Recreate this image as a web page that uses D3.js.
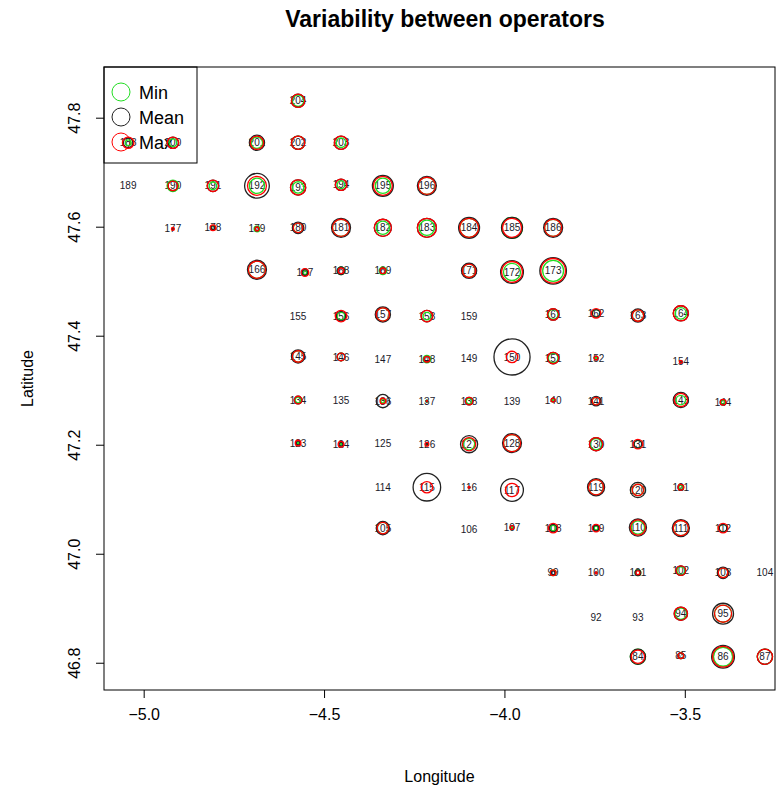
<!DOCTYPE html>
<html>
<head>
<meta charset="utf-8">
<script src="https://cdn.jsdelivr.net/npm/d3@7"></script>
<style>
  body { margin: 0; background: #fff; }
  svg { display: block; font-family: Arial, "Liberation Sans", sans-serif; }
</style>
</head>
<body>
<div id="chart"></div>
<script>
// ---- data ----
const stations = [204, 188,200,201,202,203, 189,190,191,192,193,194,195,196,
  177,178,179,180,181,182,183,184,185,186, 166,167,168,169,171,172,173,
  155,156,157,158,159,161,162,163,164, 145,146,147,148,149,150,151,152,154,
  134,135,136,137,138,139,140,141,143,144, 123,124,125,126,127,128,130,131,
  114,115,116,117,119,120,121, 105,106,107,108,109,110,111,112,
  99,100,101,102,103,104, 92,93,94,95, 84,85,86,87];
const lon = [-4.572, -5.043,-4.919,-4.686,-4.572,-4.453, -5.043,-4.919,-4.808,-4.686,-4.572,-4.453,-4.337,-4.215,
  -4.919,-4.808,-4.686,-4.572,-4.453,-4.337,-4.215,-4.098,-3.979,-3.865, -4.686,-4.553,-4.453,-4.337,-4.098,-3.979,-3.865,
  -4.572,-4.453,-4.337,-4.215,-4.098,-3.865,-3.746,-3.630,-3.511, -4.572,-4.453,-4.337,-4.215,-4.098,-3.979,-3.865,-3.746,-3.511,
  -4.572,-4.453,-4.337,-4.215,-4.098,-3.979,-3.865,-3.746,-3.511,-3.394, -4.572,-4.453,-4.337,-4.215,-4.098,-3.979,-3.746,-3.630,
  -4.337,-4.215,-4.098,-3.979,-3.746,-3.630,-3.511, -4.337,-4.098,-3.979,-3.865,-3.746,-3.630,-3.511,-3.394,
  -3.865,-3.746,-3.630,-3.511,-3.394,-3.278, -3.746,-3.630,-3.511,-3.394, -3.630,-3.511,-3.394,-3.278];
const lat = [47.831, 47.754,47.754,47.754,47.754,47.754, 47.675,47.675,47.675,47.675,47.672,47.677,47.675,47.675,
  47.596,47.598,47.596,47.598,47.598,47.598,47.598,47.598,47.598,47.598, 47.521,47.516,47.519,47.519,47.519,47.517,47.519,
  47.436,47.436,47.439,47.436,47.436,47.439,47.441,47.437,47.441, 47.362,47.361,47.357,47.357,47.359,47.361,47.359,47.359,47.352,
  47.282,47.282,47.280,47.280,47.280,47.280,47.282,47.280,47.282,47.278, 47.203,47.201,47.203,47.201,47.201,47.203,47.201,47.201,
  47.122,47.122,47.122,47.117,47.122,47.117,47.122, 47.047,47.045,47.048,47.047,47.047,47.048,47.047,47.047,
  46.965,46.965,46.965,46.969,46.965,46.965, 46.884,46.884,46.890,46.890, 46.811,46.813,46.811,46.811];
const minVals = [6, 3,4,6,7,5, 0,6,4,8,6,4,8,9,
  0,2,3,5,9,7,8,10,11,9, 9,2,4,4,7,9,11,
  0,4,7,4,0,5,4,6,6, 6,4,0,4,0,0,5,1,0,
  3,0,2,1,3,0,1,4,5,2, 1,1,0,1,6,9,6,4,
  0,0,0,0,8,6,2, 6,0,1,3,2,7,8,4,
  3,0,3,4,5,0, 0,0,6,9, 8,3,10,8];
const meanVals = [7, 5,6,8,7,7, 0,5,6,13,8,6,11,10,
  1,2,2,6,10,9,10,11,11,10, 10,3,4,3,8,12,14,
  0,5,8,6,0,6,4,7,8, 7,4,0,3,0,19,6,2,1,
  4,0,7,1,4,0,2,5,8,3, 2,2,0,1,9,10,7,4,
  0,14.5,1,12,9,8,3, 7,0,2,4,3,9,9,4,
  2,1,3,5,6,0, 0,0,7,11, 8,3,12,8];
const maxVals = [7, 6,6,7,7,7, 0,5,6,10,8,6,10,9,
  1.5,3,2,5,9,9,10,10,10,9, 9,4,3,3,7,11,13,
  0,6,7,6,0,6,5,6,8, 6,4,0,3,0,6,6,2,1.5,
  4,0,3,0.5,4,0,2,4,7,3, 3,3,0,2,7,9,7,5,
  0,6,1,7,8,6,3, 6,0,2,5,4,8,8,5,
  3,1,2,5,5,0, 0,0,7,9, 7,3,11,8];
const xTicks = [-5.0, -4.5, -4.0, -3.5];
const yTicks = [46.8, 47.0, 47.2, 47.4, 47.6, 47.8];
const legendLabels = ["Min", "Mean", "Max"];
const legendColors = ["#22dd22", "#222222", "#ff0000"];

// ---- layout ----
const W = 779, H = 789;
const plot = {left: 104, right: 775, top: 67, bottom: 690};

const svg = d3.select("#chart").append("svg").attr("width", W).attr("height", H);

const x = d3.scaleLinear().domain([-5.11, -3.25]).range([plot.left, plot.right]);
const y = d3.scaleLinear().domain([46.75, 47.893]).range([plot.bottom, plot.top]);
const r = d3.scaleLinear().domain([0, 20]).range([0, 19]);

// title
svg.append("text").attr("x", 445).attr("y", 27)
  .attr("text-anchor", "middle").attr("font-size", 23).attr("font-weight", "bold")
  .text("Variability between operators");

// axes
const xAxis = d3.axisBottom(x).tickValues(xTicks).tickFormat(d3.format(".1f")).tickSize(8).tickPadding(11);
const gx = svg.append("g").attr("transform", `translate(0,${plot.bottom})`).call(xAxis);
gx.select(".domain").remove();
gx.selectAll("text").attr("font-size", 16).attr("font-family", "Arial, 'Liberation Sans', sans-serif").attr("fill", "#000");
gx.selectAll("line").attr("stroke", "#000");

const yAxis = d3.axisLeft(y).tickValues(yTicks).tickFormat(d3.format(".1f")).tickSize(8);
const gy = svg.append("g").attr("transform", `translate(${plot.left},0)`).call(yAxis);
gy.select(".domain").remove();
gy.selectAll("line").attr("stroke", "#000");
gy.selectAll("text")
  .attr("font-size", 16).attr("font-family", "Arial, 'Liberation Sans', sans-serif").attr("fill", "#000")
  .attr("x", null).attr("dy", null)
  .attr("text-anchor", "middle")
  .attr("transform", "translate(-30,0) rotate(-90)")
  .attr("dy", "0.35em");

// box
svg.append("rect").attr("x", plot.left).attr("y", plot.top)
  .attr("width", plot.right - plot.left).attr("height", plot.bottom - plot.top)
  .attr("fill", "none").attr("stroke", "#000").attr("stroke-width", 1);

// axis titles
svg.append("text").attr("x", (plot.left + plot.right) / 2).attr("y", 782)
  .attr("text-anchor", "middle").attr("font-size", 16).text("Longitude");
svg.append("text").attr("transform", `translate(33,${(plot.top + plot.bottom) / 2}) rotate(-90)`)
  .attr("text-anchor", "middle").attr("font-size", 16).text("Latitude");

// legend
const lg = svg.append("g");
lg.append("rect").attr("x", plot.left).attr("y", plot.top).attr("width", 93).attr("height", 96)
  .attr("fill", "none").attr("stroke", "#000").attr("stroke-width", 1);
legendLabels.forEach((lab, i) => {
  const cy = 92 + i * 25;
  lg.append("circle").attr("cx", 121).attr("cy", cy).attr("r", 9)
    .attr("fill", "none").attr("stroke", legendColors[i]).attr("stroke-width", 1);
  lg.append("text").attr("x", 139).attr("y", cy + 6.5).attr("font-size", 18).text(lab);
});

// stations
const data = stations.map((s, i) => ({id: s, lon: lon[i], lat: lat[i], vals: [minVals[i], meanVals[i], maxVals[i]]}));
const g = svg.append("g");
data.forEach(d => {
  const cx = x(d.lon), cy = y(d.lat);
  g.append("text").attr("x", cx).attr("y", cy).attr("dy", "0.36em")
    .attr("text-anchor", "middle").attr("font-size", 10).attr("fill", "#1a1a2a")
    .text(d.id);
  d.vals.forEach((v, k) => {
    if (v > 0) {
      g.append("circle").attr("cx", cx).attr("cy", cy).attr("r", r(v))
        .attr("fill", "none").attr("stroke", legendColors[k]).attr("stroke-width", 1.3);
    }
  });
});
</script>
</body>
</html>
